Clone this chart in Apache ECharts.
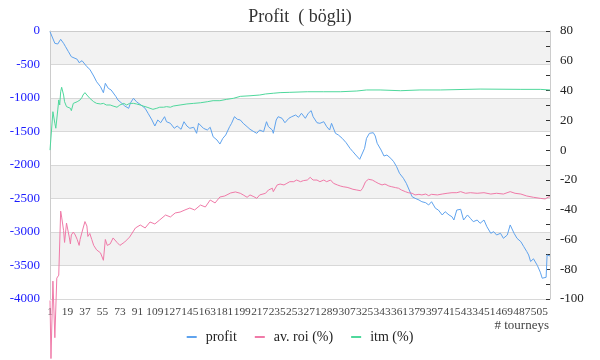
<!DOCTYPE html>
<html>
<head>
<meta charset="utf-8">
<script src="https://cdn.jsdelivr.net/npm/echarts@6/dist/echarts.min.js"></script>
<style>html,body{margin:0;padding:0;background:#fff}#c{width:600px;height:360px}</style>
</head>
<body>
<div id="c"></div>
<script>
var pointCount = 516;
var categories = [];
for (var i = 1; i <= pointCount; i++) categories.push(String(i));
var labelStep = 18;

var leftTicks = { min: -4000, max: 0, interval: 500 };
var rightTicks = { min: -100, max: 80, interval: 20 };

var profitPts = [[0,-10],[5,-184],[8,-194],[11,-124],[14,-184],[16,-234],[19,-309],[22,-384],[24,-373],[28,-422],[30,-473],[33,-443],[35,-458],[38,-533],[41,-572],[45,-672],[48,-757],[52,-831],[55,-921],[57,-781],[60,-855],[63,-881],[65,-906],[68,-981],[70,-1030],[74,-1079],[77,-1119],[81,-1154],[83,-1070],[86,-1004],[89,-1055],[91,-1030],[95,-1119],[98,-1154],[101,-1228],[105,-1328],[108,-1418],[111,-1328],[114,-1369],[118,-1279],[120,-1354],[124,-1378],[128,-1452],[131,-1418],[135,-1467],[138,-1354],[141,-1418],[144,-1452],[148,-1437],[151,-1527],[153,-1378],[158,-1452],[162,-1478],[165,-1437],[168,-1578],[172,-1627],[175,-1687],[178,-1602],[181,-1552],[185,-1428],[187,-1378],[190,-1279],[193,-1318],[196,-1328],[199,-1378],[203,-1428],[206,-1467],[210,-1503],[213,-1527],[216,-1478],[220,-1503],[223,-1354],[225,-1428],[229,-1478],[230,-1527],[233,-1328],[235,-1279],[239,-1303],[242,-1369],[246,-1303],[249,-1279],[253,-1254],[256,-1288],[259,-1228],[263,-1303],[266,-1228],[269,-1189],[271,-1279],[275,-1369],[278,-1378],[282,-1354],[285,-1428],[288,-1478],[290,-1378],[294,-1527],[297,-1552],[301,-1602],[305,-1667],[309,-1751],[312,-1801],[315,-1851],[319,-1915],[321,-1925],[324,-1751],[326,-1602],[329,-1527],[333,-1518],[335,-1567],[337,-1676],[341,-1776],[344,-1866],[347,-1851],[351,-1900],[354,-1951],[357,-2025],[360,-2124],[364,-2198],[367,-2273],[370,-2373],[373,-2473],[376,-2497],[380,-2522],[383,-2548],[387,-2563],[390,-2597],[393,-2548],[397,-2646],[400,-2672],[404,-2746],[407,-2697],[411,-2746],[414,-2772],[416,-2821],[419,-2672],[423,-2661],[426,-2821],[430,-2746],[433,-2796],[436,-2846],[440,-2821],[443,-2870],[447,-2821],[450,-2921],[454,-3019],[457,-2995],[460,-3045],[464,-3019],[467,-3094],[471,-3045],[474,-2895],[478,-3019],[481,-3094],[485,-3145],[488,-3219],[491,-3290],[493,-3343],[495,-3440],[498,-3400],[502,-3500],[505,-3600],[507,-3690],[509,-3700],[511,-3676],[512,-3343],[515,-3358]];

var roiPts = [[0,-101],[1,-140],[3,-88],[5,-126],[7,-86],[9,-84],[11,-41],[12,-45],[14,-54],[15,-62],[17,-49],[18,-50],[20,-59],[21,-63],[22,-57],[24,-55],[26,-57],[28,-60],[30,-64],[31,-60],[33,-55],[34,-54],[36,-48],[38,-51],[39,-58],[41,-56],[43,-60],[45,-64],[48,-67],[52,-69],[55,-74],[57,-60],[59,-64],[62,-63],[65,-59],[69,-62],[72,-64],[77,-61.7],[82,-58.4],[88,-52.3],[93,-50.3],[98,-52.3],[103,-48.3],[108,-49.6],[113,-46.9],[119,-43.6],[124,-44.9],[129,-42.2],[134,-41.6],[139,-40.2],[144,-38.9],[149,-40.2],[155,-36.9],[160,-38.2],[165,-33.5],[170,-35.5],[175,-31.5],[180,-30.8],[186,-28.8],[191,-28.1],[196,-29.0],[199,-30.1],[203,-31.7],[206,-30.1],[210,-31.3],[213,-32.4],[216,-30.1],[222,-29.0],[225,-26.8],[229,-25.6],[230,-27.9],[234,-23.4],[237,-22.8],[241,-23.4],[244,-22.3],[247,-21.2],[251,-21.2],[254,-20.1],[258,-21.2],[261,-20.5],[265,-20.1],[268,-18.3],[271,-20.1],[275,-20.1],[278,-21.2],[282,-20.1],[285,-21.2],[289,-20.1],[292,-22.3],[296,-23.4],[299,-24.1],[302,-24.6],[306,-25.0],[309,-25.6],[312,-26.3],[316,-26.8],[320,-27.3],[322,-25.6],[325,-21.2],[328,-19.6],[332,-20.1],[335,-21.2],[338,-22.3],[342,-23.4],[345,-22.8],[349,-24.1],[352,-24.6],[356,-25.2],[359,-25.6],[362,-26.8],[366,-27.9],[369,-28.6],[373,-29.0],[376,-30.1],[380,-29.7],[383,-30.1],[387,-29.5],[390,-30.6],[393,-29.7],[399,-30.1],[404,-29.5],[409,-29.0],[414,-28.6],[419,-28.6],[423,-27.9],[428,-29.0],[433,-28.6],[440,-29.0],[447,-28.6],[454,-29.5],[460,-29.0],[467,-29.5],[474,-27.9],[479,-29.0],[485,-29.5],[491,-30.8],[498,-31.7],[505,-32.4],[510,-32.8],[514,-31.3],[515,-31.5]];

var itmPts = [[0,0],[2,1],[3,25.8],[5,18.0],[6,14.7],[8,27.0],[9,33.7],[10,30.3],[11,39.2],[12,42.2],[14,37.0],[15,32.5],[17,29.2],[19,30.3],[21,28.1],[22,26.5],[24,31.4],[26,30.3],[28,32.5],[29,31.8],[31,33.7],[33,35.5],[34,37.0],[36,38.6],[38,37.0],[39,35.9],[41,34.8],[43,33.7],[45,32.5],[48,31.4],[52,31.0],[55,31.4],[58,30.3],[62,30.3],[65,29.6],[69,28.8],[72,30.3],[76,31.4],[79,30.3],[82,31.4],[86,31.4],[89,31.0],[93,30.3],[96,29.6],[100,28.8],[103,28.1],[106,27.4],[110,28.1],[113,28.8],[117,28.8],[120,29.2],[124,28.8],[127,29.6],[134,30.3],[141,31.0],[148,31.4],[155,31.8],[162,32.5],[168,33.2],[175,33.2],[182,34.1],[189,34.8],[196,36.1],[206,36.5],[216,37.0],[222,37.7],[230,38.2],[237,38.6],[247,38.8],[265,39.2],[282,39.2],[299,39.2],[316,39.7],[326,40.4],[340,40.4],[361,39.9],[381,40.4],[402,40.4],[443,41.0],[485,40.8],[505,40.8],[507,39.9],[515,40.4]];

var FONT = '"Liberation Serif", "DejaVu Serif", serif';
var chart = echarts.init(document.getElementById('c'), null, { renderer: 'canvas' });
chart.setOption({
  animation: false,
  backgroundColor: '#ffffff',
  title: [
    {
      text: 'Profit  ( bögli)',
      left: 'center',
      top: 3,
      textStyle: { fontFamily: FONT, fontSize: 18, fontWeight: 'normal', color: '#333333' }
    },
    {
      text: '# tourneys',
      right: 51,
      top: 319,
      padding: 0,
      textStyle: { fontFamily: FONT, fontSize: 13, fontWeight: 'normal', color: '#444444' }
    }
  ],
  legend: {
    bottom: 11,
    left: 'center',
    icon: 'rect',
    itemWidth: 10,
    itemHeight: 2,
    itemGap: 18,
    textStyle: { fontFamily: FONT, fontSize: 14, color: '#222222', padding: [0, 0, 0, 4] },
    data: ['profit', 'av. roi (%)', 'itm (%)']
  },
  grid: { left: 50, right: 50, top: 31, bottom: 61, containLabel: false },
  xAxis: {
    type: 'category',
    data: categories,
    boundaryGap: false,
    axisLine: { show: true, lineStyle: { color: '#cccccc' } },
    axisTick: { show: false },
    axisLabel: {
      interval: function (idx) { return idx % labelStep === 0; },
      showMinLabel: true, showMaxLabel: true, hideOverlap: false,
      margin: 8, fontFamily: FONT, fontSize: 11.4, color: '#444444'
    },
    splitLine: { show: false }
  },
  yAxis: [
    {
      type: 'value',
      position: 'left',
      min: leftTicks.min, max: leftTicks.max, interval: leftTicks.interval,
      axisLine: { show: true, lineStyle: { color: '#cccccc' } },
      axisTick: { show: false },
      axisLabel: { fontFamily: FONT, fontSize: 13, color: '#1a1aff', margin: 10, formatter: function (v) { return String(v); } },
      splitLine: { show: true, lineStyle: { color: '#d8d8d8' } },
      splitArea: { show: true, areaStyle: { color: ['rgba(255,255,255,0)', '#f2f2f2'] } }
    },
    {
      type: 'value',
      position: 'right',
      min: rightTicks.min, max: rightTicks.max, interval: rightTicks.interval,
      axisLine: { show: true, lineStyle: { color: '#cccccc' } },
      axisTick: { show: true, inside: true, length: 4, lineStyle: { color: '#333333' } },
      minorTick: { show: true, splitNumber: 2, length: 4, lineStyle: { color: '#333333' } },
      axisLabel: { fontFamily: FONT, fontSize: 13, color: '#222222', margin: 10 },
      splitLine: { show: false }
    }
  ],
  series: [
    { name: 'profit', type: 'line', yAxisIndex: 0, data: profitPts, showSymbol: false, symbol: 'none', color: '#5fa3ee', lineStyle: { width: 1, color: '#5fa3ee' }, clip: false },
    { name: 'av. roi (%)', type: 'line', yAxisIndex: 1, data: roiPts, showSymbol: false, symbol: 'none', color: '#f07aa8', lineStyle: { width: 1, color: '#f07aa8' }, clip: false },
    { name: 'itm (%)', type: 'line', yAxisIndex: 1, data: itmPts, showSymbol: false, symbol: 'none', color: '#4fd89c', lineStyle: { width: 1, color: '#4fd89c' }, clip: false }
  ]
});
</script>
</body>
</html>
